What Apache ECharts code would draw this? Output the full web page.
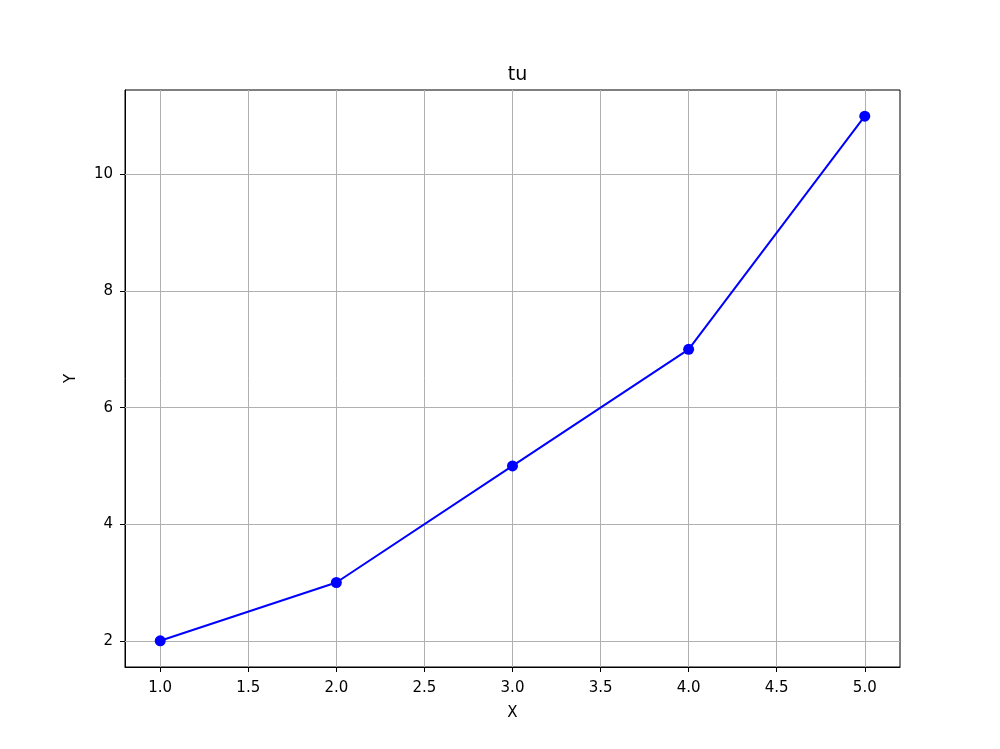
<!DOCTYPE html>
<html>
<head>
<meta charset="utf-8">
<script src="https://cdn.jsdelivr.net/npm/echarts@6/dist/echarts.min.js"></script>
<style>html,body{margin:0;padding:0;background:#fff}#c{width:1000px;height:749px}</style>
</head>
<body>
<div id="c"></div>
<script>
const titleText = 'tu';
const xValues = [1, 2, 3, 4, 5];
const yValues = [2, 3, 5, 7, 11];
const xTicks = [1.0, 1.5, 2.0, 2.5, 3.0, 3.5, 4.0, 4.5, 5.0];
const yTicks = [2, 4, 6, 8, 10];

const font = 'DejaVu Sans';
const chart = echarts.init(document.getElementById('c'), null, {renderer: 'canvas'});
const gridLines = xTicks.map(v => ({xAxis: v})).concat(yTicks.map(v => ({yAxis: v})));
chart.setOption({
  animation: false,
  backgroundColor: '#fff',
  title: {
    text: titleText, left: 512.5, top: 61, textAlign: 'center',
    textStyle: {fontFamily: font, fontSize: 19, fontWeight: 'normal', color: '#000'}
  },
  grid: {left: 125, right: 100, top: 90, bottom: 82, show: true, borderColor: '#000', borderWidth: 1, backgroundColor: 'transparent'},
  xAxis: {
    type: 'value', min: 0.8, max: 5.2,
    name: 'X', nameLocation: 'middle', nameGap: 39,
    nameTextStyle: {fontFamily: font, fontSize: 15, color: '#000'},
    axisLine: {show: true, onZero: false, lineStyle: {color: '#000', width: 1}},
    axisTick: {show: true, length: 5, inside: false, customValues: xTicks, lineStyle: {color: '#000'}},
    axisLabel: {customValues: xTicks, margin: 14, fontFamily: font, fontSize: 15, color: '#000', formatter: v => Number(v).toFixed(1)},
    splitLine: {show: false}
  },
  yAxis: {
    type: 'value', min: 1.55, max: 11.45,
    name: 'Y', nameLocation: 'middle', nameGap: 46,
    nameTextStyle: {fontFamily: font, fontSize: 15, color: '#000'},
    axisLine: {show: true, onZero: false, lineStyle: {color: '#000', width: 1}},
    axisTick: {show: true, length: 5, inside: false, customValues: yTicks, lineStyle: {color: '#000'}},
    axisLabel: {customValues: yTicks, margin: 12, fontFamily: font, fontSize: 15, color: '#000', formatter: v => String(Math.round(v))},
    splitLine: {show: false}
  },
  series: [{
    type: 'line',
    data: xValues.map((x, i) => [x, yValues[i]]),
    symbol: 'circle', symbolSize: 11,
    lineStyle: {color: '#0000ff', width: 2},
    itemStyle: {color: '#0000ff'},
    z: 3,
    markLine: {
      silent: true, symbol: 'none', z: 1,
      label: {show: false},
      lineStyle: {color: '#b0b0b0', width: 1, type: 'solid'},
      emphasis: {disabled: true},
      data: gridLines
    }
  }]
});
</script>
</body>
</html>
